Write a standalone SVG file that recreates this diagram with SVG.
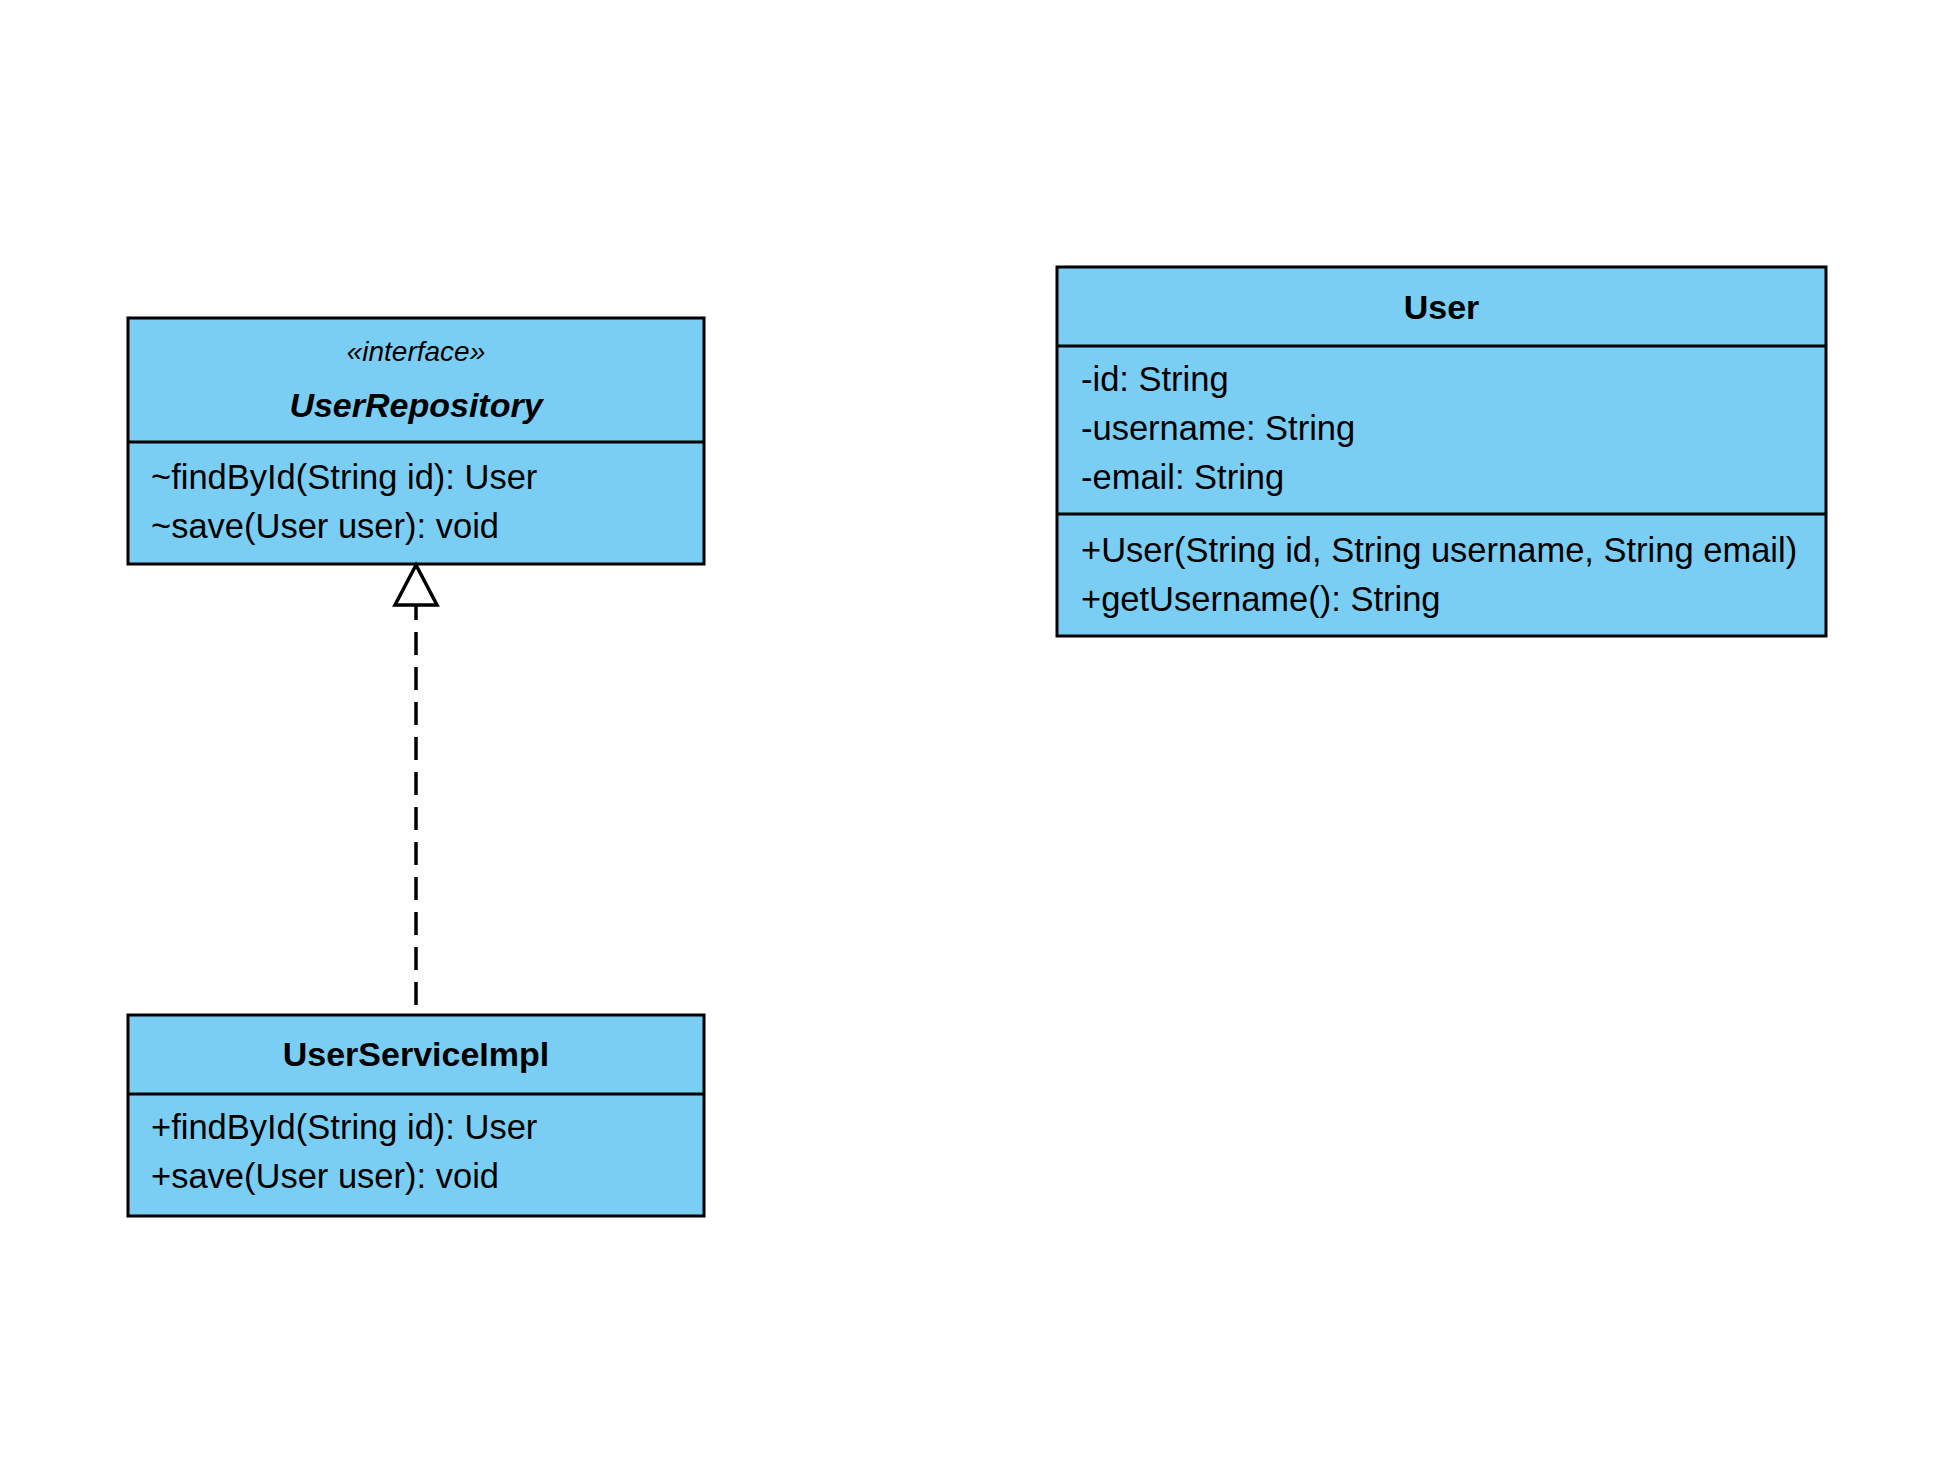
<svg xmlns="http://www.w3.org/2000/svg" width="1954" height="1484" viewBox="0 0 1954 1484">
<style>
.box{fill:#7BCEF3;stroke:#000;stroke-width:3}
.div{stroke:#000;stroke-width:3}
.t{font-family:"Liberation Sans",Arial,sans-serif;font-size:34.5px;fill:#000}
.b{font-weight:bold;font-size:34px}
.c{text-anchor:middle}
.i{font-style:italic}
.edge{fill:none;stroke:#000;stroke-width:3.5;stroke-dasharray:23 12}
</style>
<rect width="1954" height="1484" fill="#fff"/>
<g id="UserRepository">
<rect class="box" x="128" y="318" width="576" height="246"/>
<line class="div" x1="128" y1="442" x2="704" y2="442"/>
<text class="t i c" x="416" y="361" style="font-size:28px">«interface»</text>
<text class="t b i c" x="416" y="417">UserRepository</text>
<text class="t" x="151" y="489">~findById(String id): User</text>
<text class="t" x="151" y="538">~save(User user): void</text>
</g>
<g id="User">
<rect class="box" x="1057" y="267" width="769" height="369"/>
<line class="div" x1="1057" y1="346" x2="1826" y2="346"/>
<line class="div" x1="1057" y1="514" x2="1826" y2="514"/>
<text class="t b c" x="1441.5" y="319">User</text>
<text class="t" x="1081" y="391">-id: String</text>
<text class="t" x="1081" y="440">-username: String</text>
<text class="t" x="1081" y="489">-email: String</text>
<text class="t" x="1081" y="562">+User(String id, String username, String email)</text>
<text class="t" x="1081" y="611">+getUsername(): String</text>
</g>
<g id="UserServiceImpl">
<rect class="box" x="128" y="1015" width="576" height="201"/>
<line class="div" x1="128" y1="1094" x2="704" y2="1094"/>
<text class="t b c" x="416" y="1066">UserServiceImpl</text>
<text class="t" x="151" y="1139">+findById(String id): User</text>
<text class="t" x="151" y="1188">+save(User user): void</text>
</g>
<g id="connectors">
<path class="edge" d="M416 1005 L416 605"/>
<polygon points="416,565 395,605 437,605" fill="#fff" stroke="#000" stroke-width="3.5"/>
</g>
</svg>
